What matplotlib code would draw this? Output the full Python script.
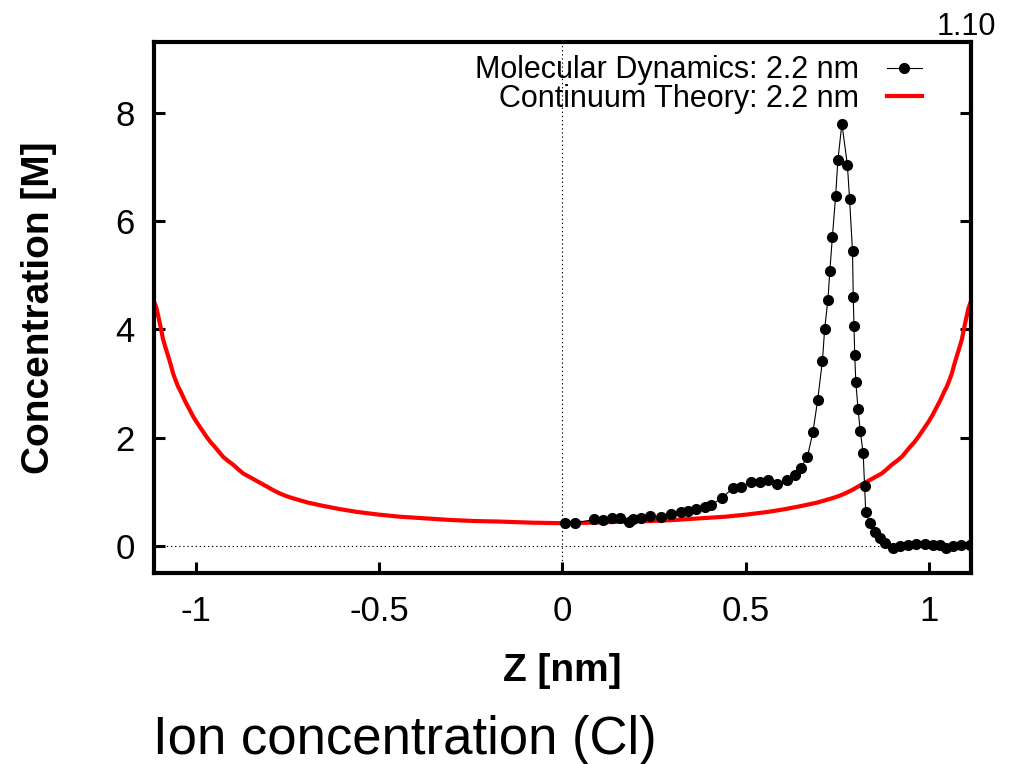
import numpy as np
import matplotlib
matplotlib.use("Agg")
import matplotlib.pyplot as plt

plt.rcParams["font.family"] = ["Liberation Sans", "DejaVu Sans"]
plt.rcParams["axes.unicode_minus"] = False

# Molecular dynamics profile (Z in nm, concentration in M)
md_z = [0.006, 0.034, 0.086, 0.111, 0.134, 0.156, 0.181, 0.193, 0.215, 0.238,
        0.270, 0.297, 0.323, 0.343, 0.365, 0.388, 0.406, 0.434, 0.465, 0.488,
        0.514, 0.538, 0.561, 0.585, 0.611, 0.634, 0.650, 0.668, 0.683, 0.696,
        0.709, 0.715, 0.724, 0.729, 0.736, 0.745, 0.751, 0.762, 0.777, 0.783,
        0.791, 0.793, 0.795, 0.797, 0.800, 0.806, 0.812, 0.820, 0.824, 0.827,
        0.838, 0.852, 0.865, 0.879, 0.902, 0.920, 0.942, 0.965, 0.988, 1.011,
        1.029, 1.047, 1.065, 1.088, 1.111]
md_c = [0.42, 0.42, 0.49, 0.48, 0.52, 0.52, 0.44, 0.50, 0.52, 0.55,
        0.54, 0.59, 0.63, 0.65, 0.68, 0.71, 0.76, 0.88, 1.07, 1.09,
        1.19, 1.18, 1.22, 1.15, 1.21, 1.31, 1.44, 1.65, 2.10, 2.70,
        3.42, 4.01, 4.55, 5.07, 5.70, 6.47, 7.12, 7.80, 7.04, 6.40,
        5.44, 4.59, 4.07, 3.53, 3.02, 2.53, 2.13, 1.71, 1.10, 0.63,
        0.42, 0.26, 0.14, 0.05, -0.04, -0.01, 0.01, 0.03, 0.03, 0.01,
        0.01, -0.03, -0.01, 0.01, 0.01]

# Continuum theory profile
ct_z = [-1.114, -1.107, -1.098, -1.089, -1.082, -1.075, -1.068, -1.062, -1.055,
        -1.048, -1.041, -1.035, -1.028, -1.021, -1.014, -1.007, -0.998, -0.989,
        -0.980, -0.971, -0.960, -0.948, -0.937, -0.926, -0.912, -0.898, -0.885,
        -0.871, -0.855, -0.839, -0.823, -0.807, -0.789, -0.771, -0.753, -0.735,
        -0.694, -0.653, -0.607, -0.562, -0.503, -0.444, -0.375, -0.307, -0.239,
        -0.171, -0.085,
        0.0,
        0.085, 0.171, 0.239, 0.307, 0.375, 0.444, 0.503, 0.562, 0.607, 0.653,
        0.694, 0.735, 0.753, 0.771, 0.789, 0.807, 0.823, 0.839, 0.855, 0.871,
        0.885, 0.898, 0.912, 0.926, 0.937, 0.948, 0.960, 0.971, 0.980, 0.989,
        0.998, 1.007, 1.014, 1.021, 1.028, 1.035, 1.041, 1.048, 1.055, 1.062,
        1.068, 1.075, 1.082, 1.089, 1.098, 1.107, 1.114]
ct_c = [4.52, 4.39, 4.11, 3.81, 3.65, 3.50, 3.34, 3.19, 3.06,
        2.94, 2.85, 2.76, 2.66, 2.57, 2.48, 2.39, 2.29, 2.20,
        2.11, 2.02, 1.92, 1.83, 1.74, 1.65, 1.57, 1.50, 1.42,
        1.34, 1.28, 1.22, 1.16, 1.10, 1.03, 0.97, 0.92, 0.88,
        0.80, 0.74, 0.68, 0.63, 0.58, 0.54, 0.51, 0.48, 0.46,
        0.45, 0.43,
        0.42,
        0.43, 0.45, 0.46, 0.48, 0.51, 0.54, 0.58, 0.63, 0.68, 0.74,
        0.80, 0.88, 0.92, 0.97, 1.03, 1.10, 1.16, 1.22, 1.28, 1.34,
        1.42, 1.50, 1.57, 1.65, 1.74, 1.83, 1.92, 2.02, 2.11, 2.20,
        2.29, 2.39, 2.48, 2.57, 2.66, 2.76, 2.85, 2.94, 3.06, 3.19,
        3.34, 3.50, 3.65, 3.81, 4.11, 4.39, 4.52]

x_ticks = [-1, -0.5, 0, 0.5, 1]
x_tick_labels = ["-1", "-0.5", "0", "0.5", "1"]
y_ticks = [0, 2, 4, 6, 8]


fig = plt.figure(figsize=(10.11, 7.64), dpi=100)
ax = fig.add_axes([0.1523, 0.25, 0.8081, 0.6944])

# zero axes (dotted)
ax.axhline(0, color="black", lw=0.8, ls=(0, (1.2, 2.5)), zorder=1)
ax.axvline(0, color="black", lw=0.8, ls=(0, (1.2, 2.5)), zorder=1)

ax.plot(md_z, md_c, color="black", lw=0.8, marker="o", markersize=7,
        label="Molecular Dynamics: 2.2 nm", zorder=3)
ax.plot(ct_z, ct_c, color="#ff0000", lw=3.0, solid_joinstyle="round",
        label="Continuum Theory: 2.2 nm", zorder=2)

ax.set_xlim(-1.114, 1.114)
ax.set_ylim(-0.5, 9.3)

ax.set_xticks(x_ticks)
ax.set_xticklabels(x_tick_labels)
ax.set_yticks(y_ticks)

for s in ax.spines.values():
    s.set_linewidth(3.0)

ax.tick_params(axis="both", direction="in", length=8, width=2.2,
               labelsize=25, right=True, top=False)
ax.tick_params(axis="x", pad=16)
ax.tick_params(axis="y", pad=14)

ax.set_xlabel("Z [nm]", fontsize=28, fontweight="bold", labelpad=18)
ax.set_ylabel("Concentration [M]", fontsize=28, fontweight="bold", labelpad=42)

ax.legend(
    loc="upper right",
    bbox_to_anchor=(0.940, 0.976),
    frameon=False,
    markerfirst=False,
    fontsize=22,
    handlelength=1.15,
    handletextpad=0.9,
    labelspacing=-0.05,
    borderpad=0.0,
    borderaxespad=0.0,
)

fig.text(996 / 1011, 1 - 35 / 764, "1.10", ha="right", va="baseline", fontsize=22)
fig.text(153 / 1011, 1 - 754 / 764, "Ion concentration (Cl)", ha="left",
         va="baseline", fontsize=38)

fig.savefig("out.png", dpi=100)
